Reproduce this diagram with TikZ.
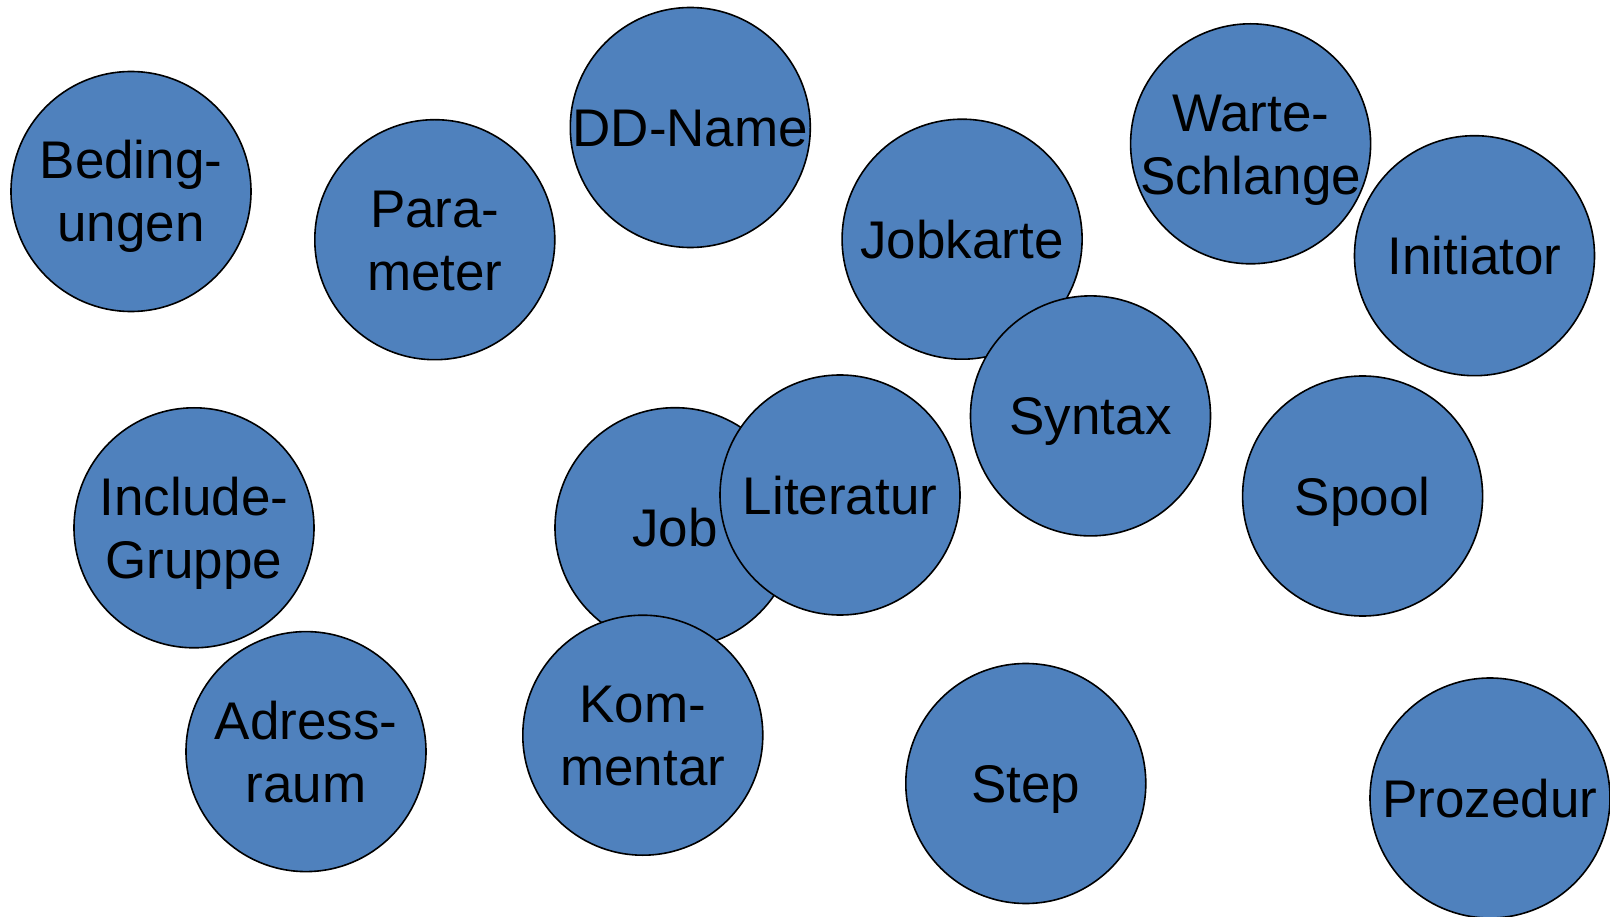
\documentclass[tikz,border=0pt]{standalone}
\usepackage{fontspec}
\setmainfont{Liberation Sans}
\definecolor{bubblefill}{HTML}{4F81BD}

% one text line whose box is exactly the cap height (centres on the capitals)
\newcommand\capline[1]{\vrule height38pt depth0pt width0pt\smash{#1}}
% single and two-line labels, zero width so the circle keeps its size
\newcommand\oneline[1]{\makebox[0pt]{\capline{#1}}}
\newcommand\twoline[2]{\makebox[0pt]{\vbox{\offinterlineskip
  \halign{\hfil##\hfil\cr\capline{#1}\cr\noalign{\kern25pt}\capline{#2}\cr}}}}

\tikzset{
  bubble/.style={circle, draw=black, line width=1.6pt, fill=bubblefill,
    minimum size=240pt, inner sep=0pt, text=black,
    font=\fontsize{53}{63}\selectfont}
}

\begin{document}
\begin{tikzpicture}[x=1pt, y=-1pt]
\path[use as bounding box] (0,0) rectangle (1610,917);

\node[bubble] (bedingungen) at (131,191.5)   {\twoline{Beding-}{ungen}};
\node[bubble] (parameter)   at (434.8,239.7) {\twoline{Para-}{meter}};
\node[bubble] (ddname)      at (690.3,127.5) {\oneline{DD-Name}};
\node[bubble] (jobkarte)    at (962.1,239.2) {\oneline{Jobkarte}};
\node[bubble] (warte)       at (1250.6,143.8) {\twoline{Warte-}{Schlange}};
\node[bubble] (initiator)   at (1474.5,255.7) {\oneline{Initiator}};
\node[bubble] (syntax)      at (1090.5,415.9) {\oneline{Syntax}};
\node[bubble] (include)     at (194,527.8)   {\twoline{Include-}{Gruppe}};
\node[bubble] (job)         at (675,527.7)   {\oneline{Job}};
\node[bubble] (literatur)   at (840,495)     {\oneline{Literatur}};
\node[bubble] (kommentar)   at (642.8,735.2) {\twoline{Kom-}{mentar}};
\node[bubble] (spool)       at (1362.6,496)  {\oneline{Spool}};
\node[bubble] (adressraum)  at (306,751.6)   {\twoline{Adress-}{raum}};
\node[bubble] (stepnode)    at (1025.8,783.5) {\oneline{Step}};
\node[bubble] (prozedur)    at (1490,798)    {\oneline{Prozedur}};
\end{tikzpicture}
\end{document}
